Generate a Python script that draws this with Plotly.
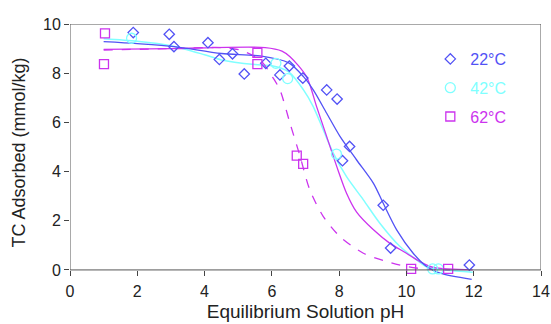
import plotly.graph_objects as go

# ---- measured data ----
ph_22 = [1.88, 2.95, 3.09, 4.10, 4.44, 4.83, 5.18, 5.82, 6.24, 6.52, 6.92, 7.63, 7.94, 8.31, 8.10, 9.31, 9.53, 11.87]
tc_22 = [9.65, 9.58, 9.08, 9.24, 8.56, 8.79, 7.97, 8.40, 7.93, 8.29, 7.80, 7.32, 6.95, 5.02, 4.44, 2.63, 0.89, 0.20]

ph_42 = [1.83, 6.12, 6.47, 7.92, 10.78, 10.95]
tc_42 = [9.42, 8.40, 7.78, 4.71, 0.04, 0.04]

ph_62 = [1.04, 1.01, 5.57, 5.57, 6.74, 6.93, 10.14, 11.24]
tc_62 = [9.62, 8.37, 8.83, 8.37, 4.65, 4.31, 0.04, 0.04]

fit22_x = [1.0, 2.0, 3.1, 4.5, 5.65, 6.5, 6.94, 7.23, 7.63, 8.03, 8.52, 9.02, 9.31, 9.71, 10.2, 10.6, 11.0, 11.94]
fit22_y = [9.28, 9.2, 9.08, 8.8, 8.7, 8.42, 7.86, 7.32, 6.37, 5.42, 4.47, 3.52, 2.71, 1.63, 0.68, 0.14, -0.13, -0.38]

fit42_x = [1.0, 2.0, 3.0, 4.0, 4.5, 5.5, 6.0, 6.5, 6.94, 7.23, 7.53, 7.83, 8.22, 8.72, 9.21, 9.81, 10.3, 10.6, 11.97]
fit42_y = [9.4, 9.3, 9.12, 8.75, 8.54, 8.35, 8.3, 8.05, 7.32, 6.64, 5.69, 4.74, 3.79, 2.85, 1.90, 0.95, 0.41, 0.13, -0.09]

fit62_x = [1.0, 3.0, 5.8, 6.3, 6.54, 7.03, 7.33, 7.63, 7.93, 8.22, 8.52, 9.02, 9.51, 10.0, 10.4, 10.8, 11.97]
fit62_y = [8.97, 9.0, 9.04, 8.9, 8.67, 7.86, 6.64, 5.42, 4.2, 3.12, 2.35, 1.63, 1.08, 0.68, 0.34, 0.1, 0.0]

dash62_x = [1.0, 3.0, 4.5, 5.05, 5.65, 6.04, 6.24, 6.54, 6.84, 7.13, 7.53, 8.03, 8.72, 9.41, 10.0, 10.6, 11.3]
dash62_y = [8.94, 9.0, 9.04, 8.94, 8.54, 7.8, 7.32, 5.96, 4.61, 3.25, 2.17, 1.35, 0.68, 0.34, 0.14, 0.03, 0.0]

x_ticks = [0, 2, 4, 6, 8, 10, 12, 14]
y_ticks = [0, 2, 4, 6, 8, 10]

C22 = "#5252f5"
C42 = "#80ffff"
C62 = "#cc33ee"

fig = go.Figure()

# fitted curves
fig.add_trace(go.Scatter(x=fit42_x, y=fit42_y, mode="lines", line=dict(color=C42, width=1.5, shape="spline", smoothing=0.8), showlegend=False))
fig.add_trace(go.Scatter(x=dash62_x, y=dash62_y, mode="lines", line=dict(color=C62, width=1.3, dash="dash", shape="spline", smoothing=0.8), showlegend=False))
fig.add_trace(go.Scatter(x=fit62_x, y=fit62_y, mode="lines", line=dict(color=C62, width=1.3, shape="spline", smoothing=0.8), showlegend=False))
fig.add_trace(go.Scatter(x=fit22_x, y=fit22_y, mode="lines", line=dict(color=C22, width=1.3, shape="spline", smoothing=0.8), showlegend=False))

# measured points
fig.add_trace(go.Scatter(x=ph_22, y=tc_22, mode="markers", name='<span style="color:%s">22°C</span>' % C22,
                         legendgroup="a",
                         marker=dict(symbol="diamond-open", size=8, color=C22, line=dict(width=1.3))))
fig.add_trace(go.Scatter(x=ph_42, y=tc_42, mode="markers", name='<span style="color:%s">42°C</span>' % C42,
                         legendgroup="b",
                         marker=dict(symbol="circle-open", size=10, color=C42, line=dict(width=1.3))))
fig.add_trace(go.Scatter(x=ph_62, y=tc_62, mode="markers", name='<span style="color:%s">62°C</span>' % C62,
                         legendgroup="c",
                         marker=dict(symbol="square-open", size=9, color=C62, line=dict(width=1.3))))

# frame
fig.add_shape(type="rect", xref="x", yref="y", x0=0, x1=14, y0=0, y1=10,
              line=dict(color="#555555", width=1), layer="above")

ymin = -0.45
fig.update_layout(
    width=551, height=324,
    margin=dict(l=70, r=10, t=24, b=43, autoexpand=False),
    paper_bgcolor="white", plot_bgcolor="white",
    font=dict(family="Liberation Sans, Arial, sans-serif", size=16, color="#222222"),
    showlegend=True,
    legend=dict(x=0.765, y=0.93, xanchor="left", yanchor="top", bgcolor="rgba(0,0,0,0)",
                font=dict(size=16), traceorder="grouped", tracegroupgap=5, itemwidth=30),
    xaxis=dict(range=[0, 14], tickvals=x_ticks, ticks="outside", ticklen=5, tickcolor="#444444",
               showgrid=False, zeroline=False, showline=False, ticklabelstandoff=2,
               anchor="free", position=-ymin / (10 - ymin),
               title=dict(text="Equilibrium Solution pH", font=dict(size=19), standoff=5)),
    yaxis=dict(range=[ymin, 10], tickvals=y_ticks, ticks="outside", ticklen=5, tickcolor="#444444",
               showgrid=False, zeroline=False, showline=False,
               title=dict(text="TC Adsorbed (mmol/kg)", font=dict(size=18), standoff=12)),
)

fig.write_html("out.html")
